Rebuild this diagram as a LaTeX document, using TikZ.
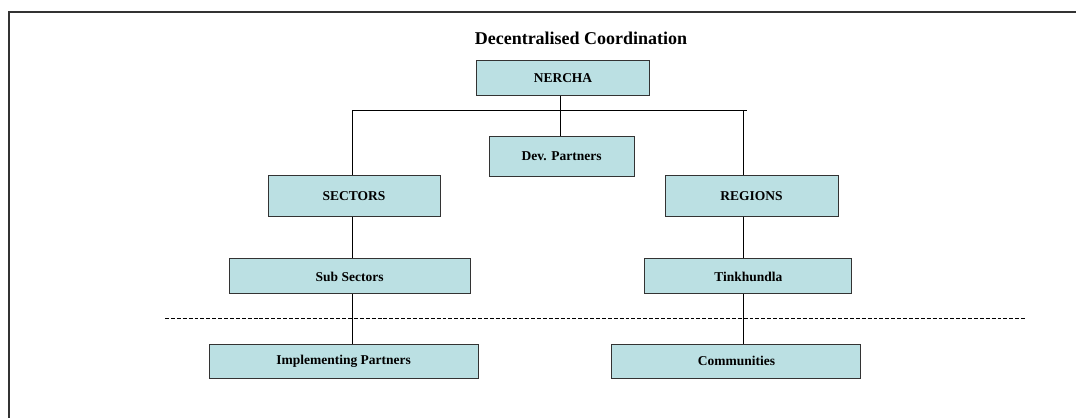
\documentclass[tikz,border=0pt]{standalone}
\usepackage{fontspec}
\setmainfont{Liberation Serif}
\usepackage{xcolor}
\usepackage{tikz}
\usetikzlibrary{positioning}

\definecolor{boxfill}{RGB}{187,224,227}

\begin{document}
\begin{tikzpicture}[
        box/.style={rectangle, draw=black!80, line width=0.7pt, fill=boxfill, minimum height=0.875cm, align=center, font=\fontsize{9.6}{11}\selectfont\bfseries, inner sep=2pt},
        link/.style={line width=0.7pt},
    ]
        \useasboundingbox (0,0) rectangle (26.9,-10.45);

        % Frame
        \draw[black!80, line width=0.8pt] (0.225,-10.45) -- (0.225,-0.3) -- (26.9,-0.3);

        % Title
        \node[font=\fontsize{12.8}{15}\selectfont\bfseries] (title) at (14.525,-0.95) {Decentralised Coordination};

        % Top level
        \node[box, minimum width=4.325cm] (nercha) at (14.075,-1.95) {NERCHA};
        \node[box, minimum width=3.625cm, minimum height=1cm] (dev) at (14.04,-3.9) {Dev. Partners};

        % Sectors and regions
        \node[box, minimum width=4.3cm, minimum height=1.025cm] (sectors) at (8.85,-4.89) {SECTORS};
        \node[box, minimum width=4.325cm, minimum height=1.025cm] (regions) at (18.79,-4.89) {REGIONS};

        \node[box, minimum width=6.025cm] (subsec) at (8.74,-6.91) {Sub Sectors};
        \node[box, minimum width=5.175cm] (tink) at (18.71,-6.91) {Tinkhundla};

        \node[box, minimum width=6.725cm, minimum height=0.85cm] (impl) at (8.59,-9.025) {Implementing Partners};
        \node[box, minimum width=6.225cm, minimum height=0.85cm] (comm) at (18.41,-9.025) {Communities};

        % Spines
        \coordinate (lspine) at (8.8,-2.75);
        \coordinate (rspine) at (18.575,-2.75);
        \coordinate (bus) at (14.0,-2.75);

        % Links
        \draw[link] (nercha.south -| bus) -- (dev.north -| bus);
        \draw[link] (sectors.north -| lspine) -- (lspine) -- ([xshift=0.1cm]rspine);
        \draw[link] (rspine) -- (regions.north -| rspine);
        \draw[link] (sectors.south -| lspine) -- (subsec.north -| lspine);
        \draw[link] (subsec.south -| lspine) -- (impl.north -| lspine);
        \draw[link] (regions.south -| rspine) -- (tink.north -| rspine);
        \draw[link] (tink.south -| rspine) -- (comm.north -| rspine);

        % Divider
        \draw[link, dash pattern=on 2.8pt off 1.4pt] (4.125,-7.95) -- (25.625,-7.95);

    \end{tikzpicture}
\end{document}
